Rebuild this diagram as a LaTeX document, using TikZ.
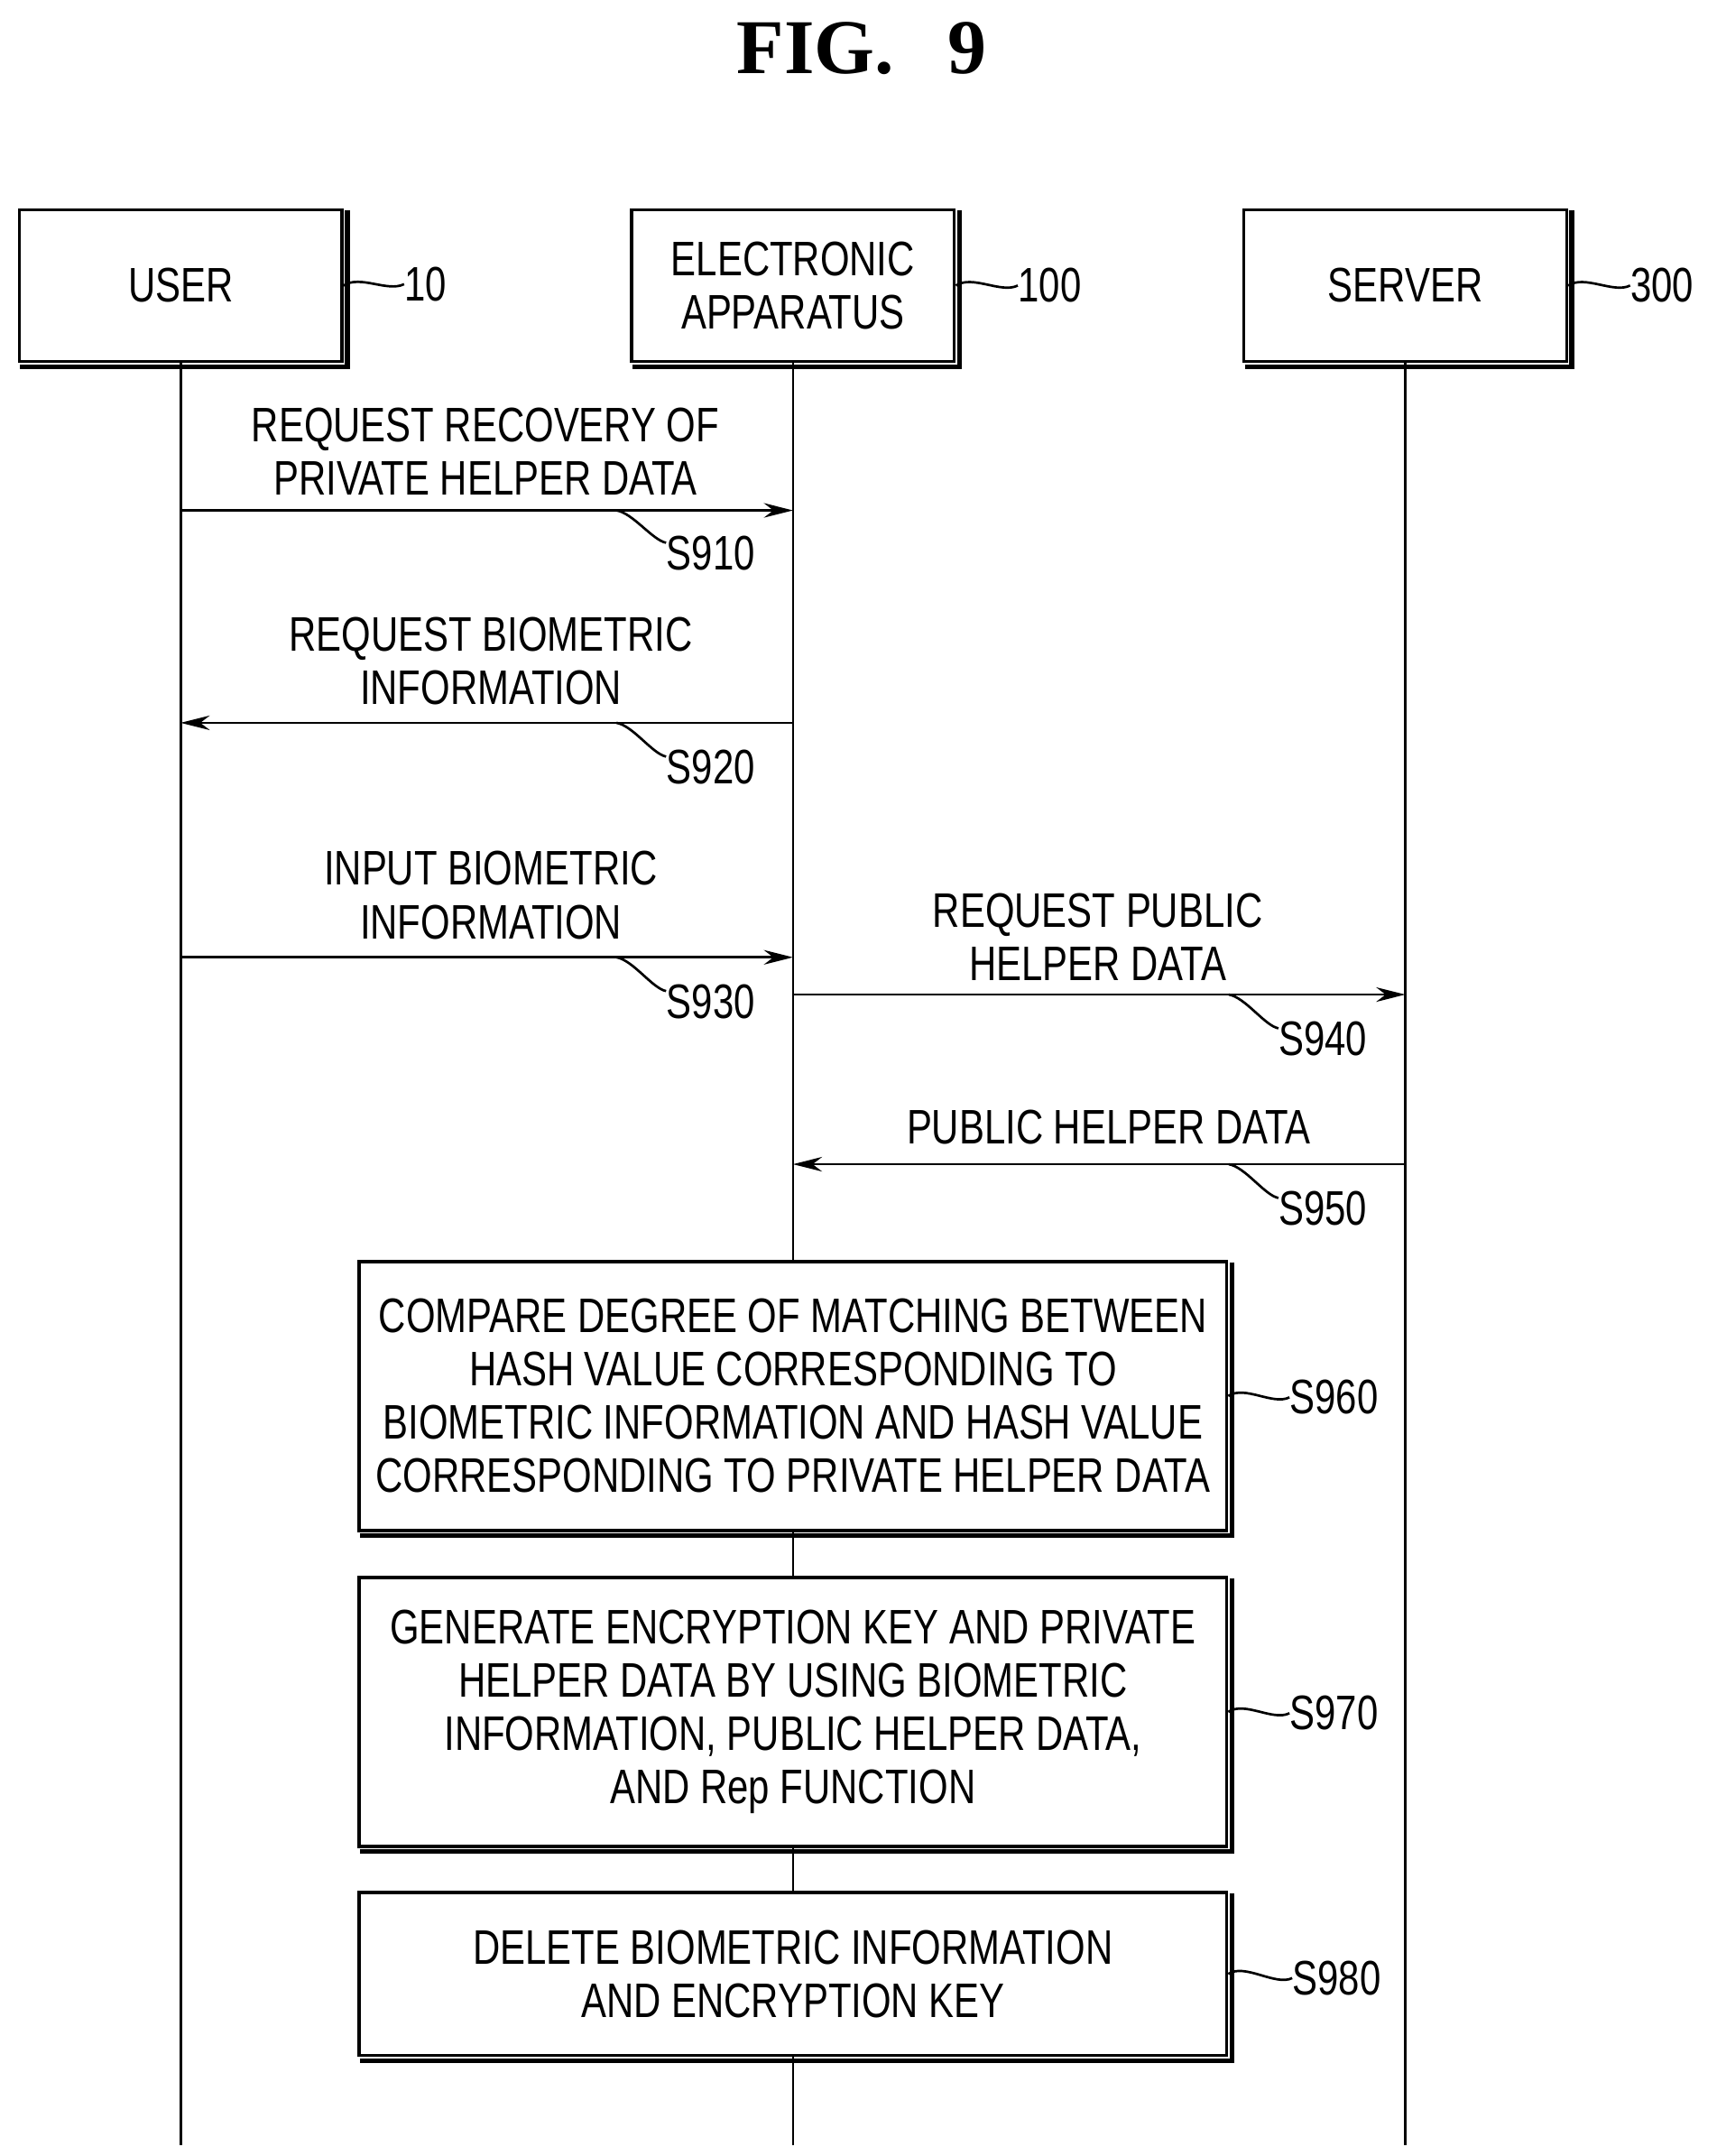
\documentclass[tikz,border=0pt]{standalone}
\usepackage{fontspec}
\setmainfont{Liberation Sans}[FakeStretch=0.78]
\newfontfamily\titlefont{Liberation Serif}
\usetikzlibrary{arrows.meta,positioning,calc}
\tikzset{
  actor/.style={draw, fill=white, line width=1.3pt, minimum width=234*0.02cm, minimum height=110*0.02cm, align=center, inner sep=0pt},
  stepbox/.style={draw, fill=white, line width=1.3pt, minimum width=629*0.02cm, align=center, inner sep=0pt},
  msg/.style={line width=1pt, -{Stealth[length=12pt,width=6pt]}},
  txt/.style={align=center, inner sep=0pt},
  tag/.style={anchor=west, inner sep=0pt},
  lead/.style={line width=1pt},
}
\begin{document}
\begin{tikzpicture}[x=0.02cm, y=-0.02cm, font=\fontsize{20}{22}\selectfont]
  \useasboundingbox (0,0) rectangle (1245,1563);

  % Titel
  \node[txt, font=\titlefont\bfseries\fontsize{32}{34}\selectfont] (title) at (625,35) {FIG.\hspace{0.7em}9};

  % Lebenslinien
  \coordinate (utop) at (131,207); \coordinate (uend) at (131,1555);
  \coordinate (atop) at (575,207); \coordinate (aend) at (575,1555);
  \coordinate (stop) at (1019,207); \coordinate (send) at (1019,1555);
  \draw[line width=1pt] (utop) -- (uend);
  \draw[line width=1pt] (atop) -- (aend);
  \draw[line width=1pt] (stop) -- (send);

  % Teilnehmer
  \node[actor] (user) at (131,207) {USER};
  \node[actor] (app) at (575,207) {ELECTRONIC\\APPARATUS};
  \node[actor] (server) at (1019,207) {SERVER};
  \node[tag] (n10) at (293,206) {10};
  \node[tag] (n100) at (738,207) {100};
  \node[tag] (n300) at (1182,207) {300};
  \foreach \a/\b in {user/n10, app/n100, server/n300}
    \draw[lead] (\a.east) .. controls +(12,-8) and +(-12,6) .. (\b.west);

  % Nachrichten
  \coordinate (u910) at (131,370); \coordinate (a910) at (575,370);
  \coordinate (a920) at (575,524); \coordinate (u920) at (131,524);
  \coordinate (u930) at (131,694); \coordinate (a930) at (575,694);
  \coordinate (a940) at (575,721); \coordinate (s940) at (1019,721);
  \coordinate (s950) at (1019,844); \coordinate (a950) at (575,844);
  \draw[msg] (u910) -- (a910);
  \draw[msg] (a920) -- (u920);
  \draw[msg] (u930) -- (a930);
  \draw[msg] (a940) -- (s940);
  \draw[msg] (s950) -- (a950);

  \node[txt] (t910) at (352,327) {REQUEST RECOVERY OF\\PRIVATE HELPER DATA};
  \node[txt] (t920) at (356,479) {REQUEST BIOMETRIC\\INFORMATION};
  \node[txt] (t930) at (356,649) {INPUT BIOMETRIC\\INFORMATION};
  \node[txt] (t940) at (796,679) {REQUEST PUBLIC\\HELPER DATA};
  \node[txt] (t950) at (804,817) {PUBLIC HELPER DATA};

  \node[tag] (l910) at (483,401) {S910};
  \node[tag] (l920) at (483,556) {S920};
  \node[tag] (l930) at (483,726) {S930};
  \node[tag] (l940) at (927,753) {S940};
  \node[tag] (l950) at (927,876) {S950};
  \foreach \y/\l in {370/l910, 524/l920, 694/l930} {
    \coordinate (p) at (447,\y);
    \draw[lead] (p) .. controls +(12,2) and +(-10,-2) .. ([yshift=-3pt]\l.north west);
  }
  \foreach \y/\l in {721/l940, 844/l950} {
    \coordinate (p) at (891,\y);
    \draw[lead] (p) .. controls +(12,2) and +(-10,-2) .. ([yshift=-3pt]\l.north west);
  }

  % Verarbeitungsschritte
  \node[stepbox, minimum height=195*0.02cm] (b960) at (575,1012) {COMPARE DEGREE OF MATCHING BETWEEN\\HASH VALUE CORRESPONDING TO\\BIOMETRIC INFORMATION AND HASH VALUE\\CORRESPONDING TO PRIVATE HELPER DATA};
  \node[stepbox, minimum height=195*0.02cm] (b970) at (575,1241) {GENERATE ENCRYPTION KEY AND PRIVATE\\HELPER DATA BY USING BIOMETRIC\\INFORMATION, PUBLIC HELPER DATA,\\AND Rep FUNCTION};
  \node[stepbox, minimum height=118*0.02cm] (b980) at (575,1431) {DELETE BIOMETRIC INFORMATION\\AND ENCRYPTION KEY};
  \node[tag] (l960) at (935,1013) {S960};
  \node[tag] (l970) at (935,1242) {S970};
  \node[tag] (l980) at (937,1434) {S980};
  \foreach \a/\b in {b960/l960, b970/l970, b980/l980}
    \draw[lead] (\a.east) .. controls +(12,-8) and +(-12,6) .. (\b.west);

  % Schatten
  \foreach \n in {user, app, server, b960, b970, b980}
    \draw[line width=2pt] ([xshift=1.5pt,yshift=-1pt]\n.north east) -- ([xshift=1.5pt,yshift=-1.5pt]\n.south east) -- ([xshift=1pt,yshift=-1.5pt]\n.south west);
\end{tikzpicture}
\end{document}
